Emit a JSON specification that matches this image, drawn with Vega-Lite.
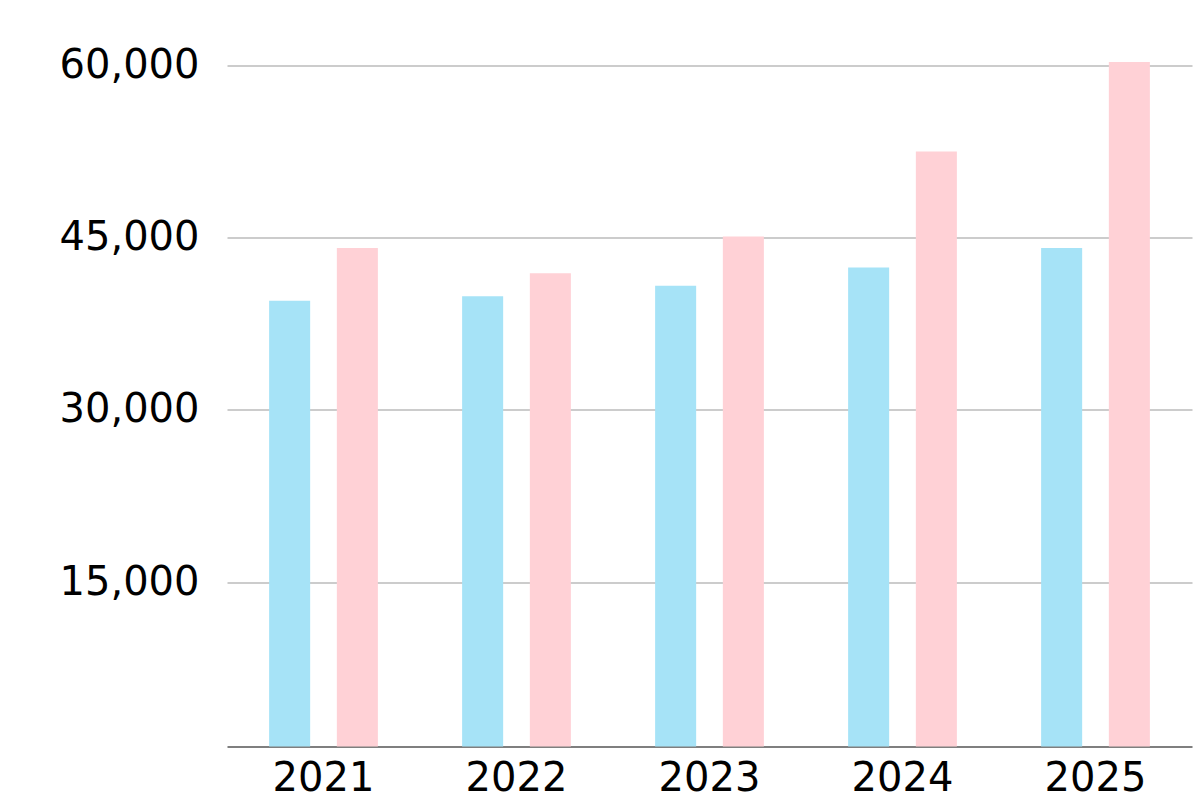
{
  "$schema": "https://vega.github.io/schema/vega-lite/v6.json",
  "autosize": "none",
  "width": 965,
  "height": 704,
  "padding": {"left": 227, "top": 42.5, "right": 4, "bottom": 53.5},
  "background": "white",
  "config": {
    "view": {"stroke": null},
    "font": "DejaVu Sans"
  },
  "data": {
    "values": [
      {"year": "2021", "series": "A", "value": 39500},
      {"year": "2021", "series": "B", "value": 44100},
      {"year": "2022", "series": "A", "value": 39900},
      {"year": "2022", "series": "B", "value": 41900},
      {"year": "2023", "series": "A", "value": 40800},
      {"year": "2023", "series": "B", "value": 45100},
      {"year": "2024", "series": "A", "value": 42400},
      {"year": "2024", "series": "B", "value": 52500},
      {"year": "2025", "series": "A", "value": 44100},
      {"year": "2025", "series": "B", "value": 60300}
    ]
  },
  "mark": {"type": "bar"},
  "encoding": {
    "x": {
      "field": "year",
      "type": "nominal",
      "scale": {"paddingInner": 0, "paddingOuter": 0},
      "axis": {
        "title": null,
        "labelAngle": 0,
        "labelFontSize": 40,
        "labelColor": "#000000",
        "labelPadding": 12,
        "ticks": false,
        "domain": true,
        "domainColor": "#7f7f7f",
        "domainWidth": 2,
        "grid": false
      }
    },
    "xOffset": {
      "field": "series",
      "type": "nominal",
      "scale": {"paddingInner": 0.394, "paddingOuter": 0.622}
    },
    "y": {
      "field": "value",
      "type": "quantitative",
      "scale": {"domain": [670, 62000], "nice": false, "zero": false, "clamp": true},
      "axis": {
        "title": null,
        "values": [15000, 30000, 45000, 60000],
        "format": ",.0f",
        "labelFontSize": 40,
        "labelColor": "#000000",
        "labelPadding": 28,
        "ticks": false,
        "domain": false,
        "grid": true,
        "gridColor": "#999999",
        "gridWidth": 1
      }
    },
    "color": {
      "field": "series",
      "type": "nominal",
      "scale": {"domain": ["A", "B"], "range": ["#a6e3f7", "#ffd1d6"]},
      "legend": null
    }
  }
}
